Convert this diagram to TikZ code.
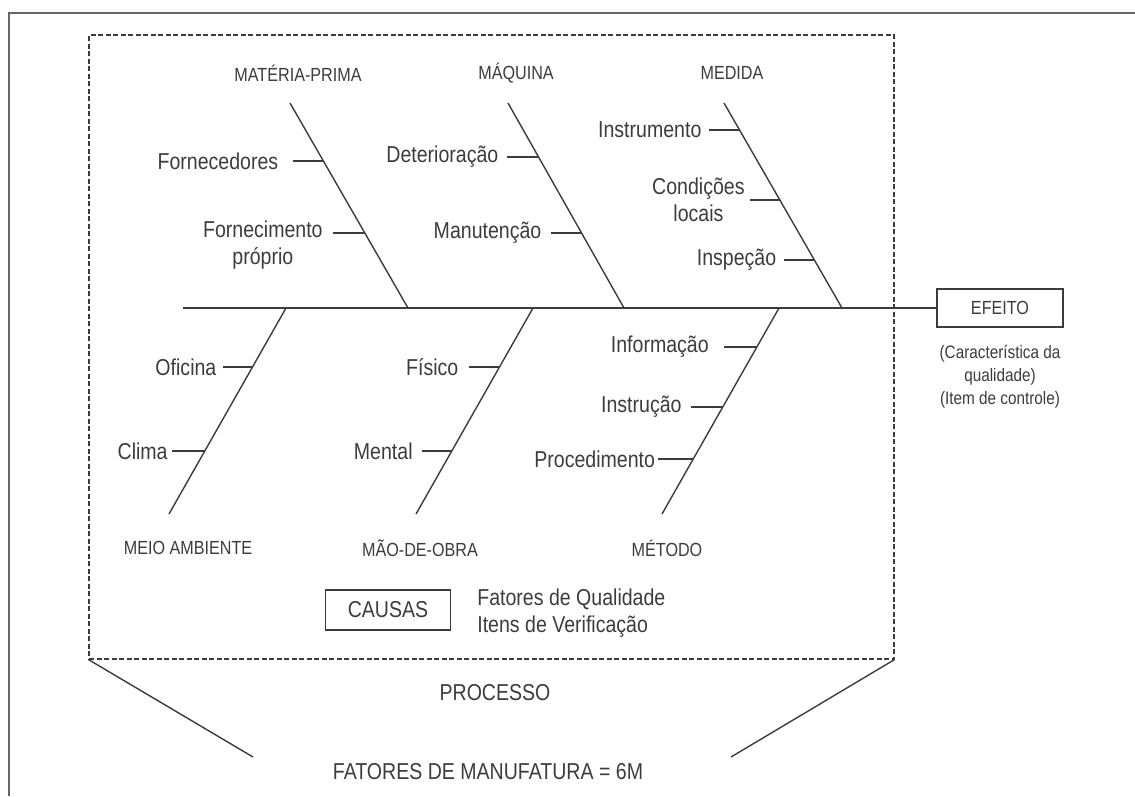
\documentclass[tikz,border=0pt]{standalone}
\usepackage{fontspec}
\setmainfont[FakeStretch=0.85]{Liberation Sans}
\usetikzlibrary{positioning}
\definecolor{inkgray}{HTML}{3C3C3C}

\begin{document}
\begin{tikzpicture}
        [x=1pt,y=-1pt,
        every node/.style={text=inkgray},
        frame/.style={draw=gray!80!black,line width=2pt},
        bone/.style={draw=inkgray,line width=1.4pt},
        rib/.style={draw=inkgray,line width=1.3pt},
        cat/.style={font=\fontsize{19}{22}\selectfont},
        item/.style={inner sep=0pt,align=center,font=\fontsize{23}{27}\selectfont},
        note/.style={align=center,inner sep=0pt,font=\fontsize{18}{23}\selectfont},
        big/.style={font=\fontsize{23}{27}\selectfont},
        box/.style={draw=inkgray,line width=1.3pt,rectangle,#1}]
        \useasboundingbox (0,0) rectangle (1135,796);
        % outer frame
        \coordinate (fBL) at (9,796);
        \coordinate (fTL) at (9,13);
        \coordinate (fTR) at (1135,13);
        \draw[frame] (fBL) -- (fTL) -- (fTR);
        % process box
        \node[draw=inkgray,line width=1.1pt,dash pattern=on 5pt off 2.5pt,
              minimum width=805pt,minimum height=624pt,inner sep=0pt]
              (processo) at (491.5,347) {};
        % spine and effect
        \coordinate (tail) at (183,308);
        \node[box={minimum width=126pt,minimum height=38pt},
              font=\fontsize{19}{22}\selectfont] (efeito) at (1000,308) {EFEITO};
        \draw[bone] (tail) -- (efeito);
        \node[note,below=17pt of efeito] (carac)
            {(Característica da\\qualidade)\\(Item de controle)};
        % bones
        \coordinate (mpT) at (290,103); \coordinate (mpB) at (408,308);
        \coordinate (maT) at (508,103); \coordinate (maB) at (624,308);
        \coordinate (meT) at (724,103); \coordinate (meB) at (842,308);
        \coordinate (amT) at (286,308); \coordinate (amB) at (169,514);
        \coordinate (moT) at (533,308); \coordinate (moB) at (416,514);
        \coordinate (mtT) at (779,308); \coordinate (mtB) at (662,514);
        \draw[bone] (mpT) -- (mpB);
        \draw[bone] (maT) -- (maB);
        \draw[bone] (meT) -- (meB);
        \draw[bone] (amT) -- (amB);
        \draw[bone] (moT) -- (moB);
        \draw[bone] (mtT) -- (mtB);
        \node[cat] (mprima) at (298,73) {MATÉRIA-PRIMA};
        \node[cat] (maquina) at (516,73) {MÁQUINA};
        \node[cat] (medida) at (732,73) {MEDIDA};
        \node[cat] (meio) at (188,548) {MEIO AMBIENTE};
        \node[cat] (maoobra) at (420,548) {MÃO-DE-OBRA};
        \node[cat] (metodo) at (667,548) {MÉTODO};
        % MATÉRIA-PRIMA
        \path (mpT) -- (mpB) coordinate[pos=.283] (mp1) coordinate[pos=.634] (mp2);
        \coordinate[left=30pt of mp1] (mp1e);
        \coordinate[left=32pt of mp2] (mp2e);
        \draw[rib] (mp1) -- (mp1e);
        \draw[rib] (mp2) -- (mp2e);
        \node[item,left=15pt of mp1e] (forn) {Fornecedores};
        \node[item,left=10pt of mp2e,yshift=-12pt] (fprop) {Fornecimento\\próprio};
        % MÁQUINA
        \path (maT) -- (maB) coordinate[pos=.263] (ma1) coordinate[pos=.634] (ma2);
        \coordinate[left=32pt of ma1] (ma1e);
        \coordinate[left=31pt of ma2] (ma2e);
        \draw[rib] (ma1) -- (ma1e);
        \draw[rib] (ma2) -- (ma2e);
        \node[item,left=8pt of ma1e] (deter) {Deterioração};
        \node[item,left=9pt of ma2e] (manut) {Manutenção};
        % MEDIDA
        \path (meT) -- (meB) coordinate[pos=.132] (me1) coordinate[pos=.473] (me2)
            coordinate[pos=.766] (me3);
        \coordinate[left=31pt of me1] (me1e);
        \coordinate[left=30pt of me2] (me2e);
        \coordinate[left=30pt of me3] (me3e);
        \draw[rib] (me1) -- (me1e);
        \draw[rib] (me2) -- (me2e);
        \draw[rib] (me3) -- (me3e);
        \node[item,left=7pt of me1e] (instrum) {Instrumento};
        \node[item,left=5pt of me2e] (condloc) {Condições\\locais};
        \node[item,left=8pt of me3e] (inspec) {Inspeção};
        % MEIO AMBIENTE
        \path (amT) -- (amB) coordinate[pos=.286] (am1) coordinate[pos=.694] (am2);
        \coordinate[left=30pt of am1] (am1e);
        \coordinate[left=33pt of am2] (am2e);
        \draw[rib] (am1) -- (am1e);
        \draw[rib] (am2) -- (am2e);
        \node[item,left=6pt of am1e] (oficina) {Oficina};
        \node[item,left=4pt of am2e] (clima) {Clima};
        % MÃO-DE-OBRA
        \path (moT) -- (moB) coordinate[pos=.286] (mo1) coordinate[pos=.694] (mo2);
        \coordinate[left=31pt of mo1] (mo1e);
        \coordinate[left=30pt of mo2] (mo2e);
        \draw[rib] (mo1) -- (mo1e);
        \draw[rib] (mo2) -- (mo2e);
        \node[item,left=10pt of mo1e] (fisico) {Físico};
        \node[item,left=9pt of mo2e] (mental) {Mental};
        % MÉTODO
        \path (mtT) -- (mtB) coordinate[pos=.189] (mt1) coordinate[pos=.481] (mt2)
            coordinate[pos=.733] (mt3);
        \coordinate[left=33pt of mt1] (mt1e);
        \coordinate[left=32pt of mt2] (mt2e);
        \coordinate[left=35pt of mt3] (mt3e);
        \draw[rib] (mt1) -- (mt1e);
        \draw[rib] (mt2) -- (mt2e);
        \draw[rib] (mt3) -- (mt3e);
        \node[item,left=15pt of mt1e] (inform) {Informação};
        \node[item,left=9pt of mt2e] (instruc) {Instrução};
        \node[item,left=3pt of mt3e] (proced) {Procedimento};
        % causes
        \node[box={minimum width=125pt,minimum height=40pt},big] (causas) at (388,610) {CAUSAS};
        \node[big,align=left,inner sep=0pt,right=26pt of causas,yshift=-3pt] (fatores)
            {Fatores de Qualidade\\Itens de Verificação};
        % process funnel
        \coordinate (fL) at (253,757);
        \coordinate (fR) at (731,757);
        \draw[bone] (processo.south west) -- (fL);
        \draw[bone] (processo.south east) -- (fR);
        \node[big] (proc) at (495,693) {PROCESSO};
        \node[big] (manuf) at (488,772) {FATORES DE MANUFATURA = 6M};
\end{tikzpicture}
\end{document}
